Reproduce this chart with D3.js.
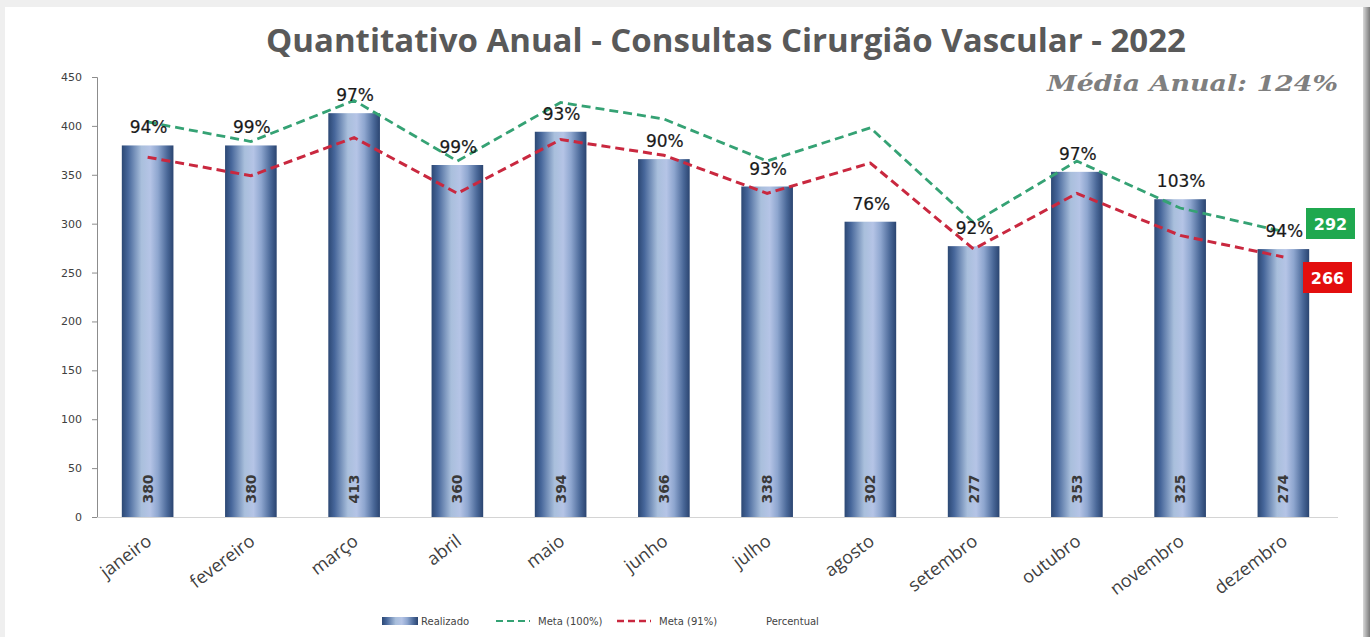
<!DOCTYPE html>
<html><head><meta charset="utf-8">
<script src="https://cdn.jsdelivr.net/npm/d3@7"></script>
<style>
html,body{margin:0;padding:0;background:#efefef;}
svg{display:block;}
</style></head>
<body>
<svg id="c" width="1370" height="637"></svg>
<script>
const months = ["janeiro","fevereiro","março","abril","maio","junho","julho","agosto","setembro","outubro","novembro","dezembro"];
const realizado = [380,380,413,360,394,366,338,302,277,353,325,274];
const meta100 = [404,384,426,364,424,407,364,398,301,364,316,292];
const meta91 = [368,349,388,331,386,370,331,362,274,331,288,266];
const percentual = ["94%","99%","97%","99%","93%","90%","93%","76%","92%","97%","103%","94%"];
const yTicks = [0,50,100,150,200,250,300,350,400,450];
const title = "Quantitativo Anual - Consultas Cirurgião Vascular - 2022";
const mediaText = "Média Anual: 124%";
const legendLabels = ["Realizado","Meta (100%)","Meta (91%)","Percentual"];

const svg = d3.select("#c");
const defs = svg.append("defs");
const g1 = defs.append("linearGradient").attr("id","barGrad").attr("x1","0").attr("x2","1").attr("y1","0").attr("y2","0");
[[0,"#2c4874"],[0.12,"#46669a"],[0.38,"#a9bfdc"],[0.55,"#b5c4e6"],[0.7,"#8ea6cf"],[0.88,"#4a6898"],[1,"#2a4470"]]
  .forEach(([o,c])=>g1.append("stop").attr("offset",o).attr("stop-color",c));
const g2 = defs.append("linearGradient").attr("id","shadowGrad").attr("x1","0").attr("x2","1");
g2.append("stop").attr("offset",0).attr("stop-color","#e6e6e6");
g2.append("stop").attr("offset",1).attr("stop-color","#7a7a7a");

// card
svg.append("rect").attr("x",0).attr("y",0).attr("width",1370).attr("height",637).attr("fill","#efefef");
svg.append("rect").attr("x",1362).attr("y",7).attr("width",8).attr("height",630).attr("fill","url(#shadowGrad)");
svg.append("rect").attr("x",5).attr("y",7).attr("width",1358).attr("height",630).attr("fill","#ffffff");

const x = d3.scaleBand().domain(months).range([96,1335]).paddingInner(0.5).paddingOuter(0.25);
const y = d3.scaleLinear().domain([0,450]).range([517,77]);

// title
svg.append("text").attr("x",726).attr("y",52).attr("text-anchor","middle")
  .attr("font-family","Open Sans").attr("font-weight",700).attr("font-size",33).attr("fill","#595959").text(title);
svg.append("text").attr("x",1338).attr("y",91).attr("text-anchor","end")
  .attr("font-family","DejaVu Serif").attr("font-style","italic").attr("font-weight","bold")
  .attr("font-size",23).attr("fill","#7f7f7f")
  .attr("textLength",291).attr("lengthAdjust","spacingAndGlyphs").text(mediaText);

// y axis
const ya = svg.append("g").attr("transform","translate(97,0)")
  .call(d3.axisLeft(y).tickValues(yTicks).tickSize(5).tickPadding(10));
ya.select(".domain").attr("stroke","#8c8c8c");
ya.selectAll(".tick line").attr("stroke","#8c8c8c");
ya.selectAll(".tick text").attr("font-family","DejaVu Sans").attr("font-size",11).attr("fill","#404040");

// x axis
const xa = svg.append("g").attr("transform","translate(0,517)")
  .call(d3.axisBottom(x).tickSize(0).tickPadding(12));
xa.select(".domain").attr("stroke","#d4d4d4").attr("d","M97,0.5H1338");
xa.selectAll(".tick text").attr("font-family","Open Sans").attr("font-size",18).attr("fill","#404040")
  .attr("text-anchor","end").attr("dy",0).attr("transform","translate(-2,17) rotate(-37)");

// bars
svg.append("g").selectAll("rect").data(months).join("rect")
  .attr("x",d=>x(d)).attr("width",x.bandwidth())
  .attr("y",(d,i)=>y(realizado[i])).attr("height",(d,i)=>y(0)-y(realizado[i]))
  .attr("fill","url(#barGrad)");

// bar values
svg.append("g").selectAll("text").data(months).join("text")
  .attr("transform",(d,i)=>`translate(${x(d)+x.bandwidth()/2+5},489) rotate(-90)`)
  .attr("text-anchor","middle").attr("font-family","DejaVu Sans").attr("font-weight","bold")
  .attr("font-size",14).attr("fill","#3a3a3a").text((d,i)=>realizado[i]);

// lines
const cx = d=>x(d)+x.bandwidth()/2;
const line = arr => d3.line().x((d,i)=>cx(months[i])).y(d=>y(d))(arr);
svg.append("path").attr("d",line(meta100)).attr("fill","none").attr("stroke","#35a274")
  .attr("stroke-width",2.8).attr("stroke-dasharray","9,5");
svg.append("path").attr("d",line(meta91)).attr("fill","none").attr("stroke","#c9283f")
  .attr("stroke-width",3).attr("stroke-dasharray","9,5");

// percent labels
svg.append("g").selectAll("text").data(months).join("text")
  .attr("x",d=>cx(d)+1).attr("y",(d,i)=>y(realizado[i])-12)
  .attr("text-anchor","middle").attr("font-family","DejaVu Sans").attr("font-size",17)
  .attr("fill","#1a1a1a").attr("stroke","#1a1a1a").attr("stroke-width",0.2).text((d,i)=>percentual[i]);

// end boxes
const endBox = (val, x0, yc, color) => {
  svg.append("rect").attr("x",x0).attr("y",yc-16).attr("width",49).attr("height",31).attr("fill",color);
  svg.append("text").attr("x",x0+24.5).attr("y",yc+6).attr("text-anchor","middle")
    .attr("font-family","DejaVu Sans").attr("font-weight","bold").attr("font-size",16).attr("fill","#ffffff").text(val);
};
endBox(meta100[11], 1306, 224, "#1fa84f");
endBox(meta91[11], 1303, 278, "#e30e0e");

// legend
const lg = svg.append("g").attr("font-family","DejaVu Sans").attr("font-size",10).attr("fill","#444");
lg.append("rect").attr("x",382).attr("y",617).attr("width",36).attr("height",8).attr("fill","url(#barGrad)");
lg.append("text").attr("x",421).attr("y",625).text(legendLabels[0]);
lg.append("line").attr("x1",496).attr("x2",530).attr("y1",621).attr("y2",621).attr("stroke","#35a274").attr("stroke-width",2.2).attr("stroke-dasharray","7,4");
lg.append("text").attr("x",538).attr("y",625).text(legendLabels[1]);
lg.append("line").attr("x1",617).attr("x2",651).attr("y1",621).attr("y2",621).attr("stroke","#c9283f").attr("stroke-width",2.4).attr("stroke-dasharray","7,4");
lg.append("text").attr("x",659).attr("y",625).text(legendLabels[2]);
lg.append("text").attr("x",766).attr("y",625).text(legendLabels[3]);
</script>
</body></html>
